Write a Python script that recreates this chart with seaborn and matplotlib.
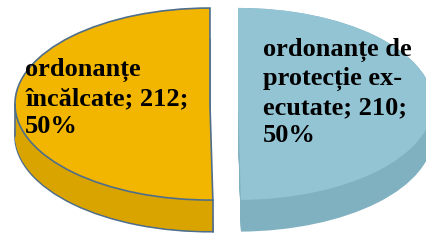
import matplotlib
matplotlib.use("Agg")
import matplotlib.pyplot as plt
import numpy as np
import seaborn as sns

# Slices in Excel order: first one starts at 12 o'clock and runs clockwise
categories = ["ordonanțe de protecție executate", "ordonanțe încălcate"]
values = [210, 212]
# category text as it is wrapped inside the slices
label_lines = ["ordonanțe de\nprotecție ex-\necutate", "ordonanțe\nîncălcate"]

sns.set_theme(style="white")
plt.rcParams["font.family"] = ["Liberation Serif", "DejaVu Serif"]

top_colors = sns.color_palette(["#93C4D4", "#F2B600"])
side_colors = sns.color_palette(["#80B1C1", "#D9A400"])
edge = "#4F6E8C"

fig = plt.figure(figsize=(4.26, 2.41), dpi=100)
ax = fig.add_axes([0, 0, 1, 1])

explode = [0.072, 0.072]
depth = 0.33
pie_kw = dict(explode=explode, startangle=90, counterclock=False)

# side of the 3d pie: a stack of shifted pies, darker colour
shifts = np.linspace(depth, 0, 34)
for k in shifts:
    wedges, _ = ax.pie(values, colors=side_colors, center=(0, -k),
                       wedgeprops=dict(linewidth=0), **pie_kw)
    if k == depth:
        wedges[1].set_edgecolor(edge)
        wedges[1].set_linewidth(1.2)

# top surface
wedges, _ = ax.pie(values, colors=top_colors, wedgeprops=dict(linewidth=0), **pie_kw)
wedges[1].set_edgecolor(edge)
wedges[1].set_linewidth(1.2)

# vertical outline of the orange side (left extreme and the cut)
frac = np.cumsum(values) / np.sum(values)
cut = np.deg2rad(90 - 360 * frac[0])
mid = np.deg2rad(90 - 360 * (frac[0] + frac[1]) / 2)
ox, oy = explode[1] * np.cos(mid), explode[1] * np.sin(mid)
ax.plot([ox - 1, ox - 1], [oy, oy - depth], color=edge, lw=1.2)
ax.plot([ox + np.cos(cut)] * 2, [oy + np.sin(cut), oy + np.sin(cut) - depth], color=edge, lw=1.2)

total = sum(values)
text_pos = [(0.617, 0.616), (0.059, 0.593)]
for lab, v, (tx, ty) in zip(label_lines, values, text_pos):
    pct = round(100 * v / total)
    ax.text(tx, ty, f"{lab}; {v};\n{pct}%", transform=ax.transAxes,
            ha="left", va="center", fontsize=19, fontweight="bold",
            color="black", linespacing=1.28)

# radius 1 -> 195 px wide, 96 px tall; pie centre at (224, 104) px
ax.set_aspect("auto")
ax.set_xlim(-224 / 195, (426 - 224) / 195)
ax.set_ylim(-(241 - 104) / 96, 104 / 96)
ax.axis("off")

fig.savefig("out.png", dpi=100)
